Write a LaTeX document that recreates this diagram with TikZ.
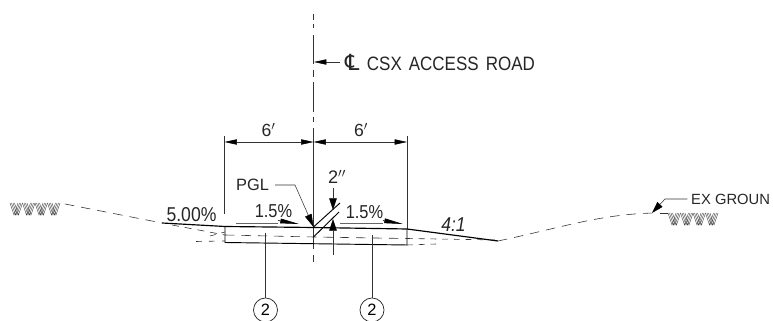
\documentclass[tikz,border=0pt]{standalone}
\usepackage{fontspec}
\setmainfont{Liberation Sans}
\usetikzlibrary{arrows.meta,positioning,calc}
\definecolor{inkline}{gray}{0.2}
\tikzset{
    dimhead/.tip={Triangle[length=10.5pt,width=4.5pt,color=black]},
    cadline/.style={draw=inkline,line width=0.45pt},
    grade/.style={draw=black,line width=1pt},
    hidden/.style={draw=inkline,line width=0.5pt,dash pattern=on 8pt off 6pt},
    slopetip/.style={-{Triangle[length=16pt,width=4pt,color=black]}},
    cadtext/.style={inner sep=0pt,text=black!85},
    callout/.style={circle,draw=black!85,line width=0.6pt,minimum size=20.5pt,inner sep=0pt,font=\fontsize{14}{14}\selectfont}
}
\newcommand{\groundhatch}[2]{%
    \foreach \k in {0,...,3}{
        \foreach \d in {0,1.5,3,4.5}{
            \draw[draw=black!75,line width=0.35pt] ($(#1+\k*12.5+\d,#2)$) -- ++(4,12) -- ++(4,-12);
        }
    }
}
\newcommand{\tallcad}[1]{\scalebox{1}[1.14]{#1}}
\begin{document}
\begin{tikzpicture}[x=0.03cm,y=-0.03cm]
    \fill[white] (0,0) rectangle (773,321);
    \useasboundingbox (0,0) rectangle (773,321);

    % Axe
    \draw[cadline] (313.5,14) -- (313.5,20);
    \draw[cadline] (313.5,24) -- (313.5,28);
    \draw[cadline] (313.5,35) -- (313.5,64);
    \draw[cadline] (313.5,70) -- (313.5,77);
    \draw[cadline] (313.5,82) -- (313.5,112);
    \draw[cadline] (313.5,117) -- (313.5,122);
    \draw[cadline] (313.5,128) -- (313.5,249);
    \draw[cadline] (313.5,255) -- (313.5,262);
    \node[cadtext,anchor=west,font=\fontsize{14.5}{14.5}\selectfont] (roadlabel) at (345,62) {\makebox[18.5pt][l]{\fontspec{DejaVu Sans}\fontsize{19}{19}\selectfont ℄}\tallcad{CSX\kern 2pt{} ACCESS\kern 2pt{} ROAD}};
    \coordinate (axistip) at (314,62);
    \draw[cadline,-dimhead] ([xshift=-4pt]roadlabel.west) -- (axistip);

    % Cotes 6'
    \coordinate (dimL) at (224.5,142);
    \coordinate (dimC) at (313.5,142);
    \coordinate (dimR) at (407,142);
    \draw[cadline] (224.5,136) -- (224.5,214);
    \draw[cadline] (407,136) -- (407,229);
    \draw[cadline,dimhead-dimhead] (dimC) -- (dimL);
    \draw[cadline,dimhead-dimhead] (dimC) -- (dimR);
    \node[cadtext,font=\fontsize{15}{15}\selectfont] (sixL) at (268.5,130) {6$'$};
    \node[cadtext,font=\fontsize{15}{15}\selectfont] (sixR) at (361,130) {6$'$};

    % Chaussee
    \coordinate (topL) at (225,226.5);
    \coordinate (topC) at (313.5,227.5);
    \coordinate (topR) at (407,229);
    \coordinate (botL) at (225,242.5);
    \coordinate (botR) at (407,245);
    \coordinate (shoulderL) at (162,223);
    \coordinate (toeR) at (498,241);
    \draw[grade] (shoulderL) -- (topL) -- (topC) -- (topR) -- (toeR);
    \draw[grade,line width=0.8pt] (topL) -- (botL) -- (botR) -- (topR);
    \draw[hidden] (225,235) -- (313.5,237) -- (407,238.5);

    % Terrain naturel
    \draw[hidden] (65,204) -- (shoulderL);
    \draw[hidden,dash pattern=on 6pt off 5pt] (172,225) -- (225,235);
    \draw[hidden,dash pattern=on 5pt off 6pt] (196,241.5) -- (225,241);
    \draw[hidden,dash pattern=on 5pt off 5pt] (210,236) -- (225,232);
    \draw[hidden,dash pattern=on 5pt off 5pt] (407,238.5) -- (498,240);
    \draw[hidden,dash pattern=on 5pt off 5pt] (407,245) -- (436,244);
    \draw[hidden] (toeR) .. controls (560,228) and (600,214) .. (655,213);
    \draw[hidden] (660,213) -- (668,213);
    \groundhatch{10}{203}
    \groundhatch{668}{213}

    % Devers
    \node[cadtext,font=\fontsize{15}{15}\selectfont] (slopeshoulder) at (191.5,214.5) {\tallcad{5.00\%}};
    \node[cadtext,font=\fontsize{14}{14}\selectfont] (crossL) at (273.5,211.5) {\tallcad{1.5\%}};
    \node[cadtext,font=\fontsize{14}{14}\selectfont] (crossR) at (364.5,212) {\tallcad{1.5\%}};
    \node[cadtext,font=\fontsize{15}{15}\selectfont\itshape] (slopefill) at (453.5,225) {\tallcad{4:1}};
    \draw[cadline,draw=black!60] (236,223) -- (278,223);
    \draw[cadline,draw=black!60] (340,223) -- (383,223);
    \draw[draw=black,line width=0.5pt,slopetip] (278,220.5) -- (299,224);
    \draw[draw=black,line width=0.5pt,slopetip] (383,220.5) -- (403,224);

    % Epaisseur 2"
    \coordinate (upperA) at (313.5,227);
    \coordinate (upperB) at (340,203);
    \coordinate (lowerA) at (313.5,237);
    \coordinate (lowerB) at (339,212);
    \draw[draw=black,line width=0.8pt] (upperA) -- (upperB);
    \draw[draw=black,line width=0.8pt] (lowerA) -- (lowerB);
    \node[cadtext,font=\fontsize{15.5}{15.5}\selectfont] (twoin) at (337,177) {2$''$};
    \coordinate (thickA) at (333,188);
    \coordinate (thickB) at (333,255);
    \draw[cadline,-{Triangle[length=10pt,width=6.5pt,color=black]}] (thickA) -- (333,210);
    \draw[cadline,-{Triangle[length=10pt,width=6.5pt,color=black]}] (thickB) -- (333,219);

    % PGL
    \node[cadtext,font=\fontsize{14}{14}\selectfont] (pgl) at (252.5,185) {PGL};
    \coordinate (pglknee) at (295,185);
    \draw[cadline,-{Triangle[length=11pt,width=6pt,color=black]}] ([xshift=5pt]pgl.east) -- (pglknee) -- (upperA);

    % Reperes
    \node[callout] (markL) at (265.5,310) {2};
    \node[callout] (markR) at (372,310) {2};
    \coordinate (baseL) at (265.5,233);
    \coordinate (baseR) at (372,235);
    \draw[cadline] (markL) -- (baseL);
    \draw[cadline] (markR) -- (baseR);

    % Terrain existant
    \node[cadtext,anchor=west,font=\fontsize{12.6}{12.6}\selectfont] (exlabel) at (691,199) {EX GROUN};
    \coordinate (exknee) at (665,199);
    \coordinate (extip) at (652,213);
    \draw[cadline,-{Triangle[length=10pt,width=6pt,color=black]}] ([xshift=-3pt]exlabel.west) -- (exknee) -- (extip);
\end{tikzpicture}
\end{document}
